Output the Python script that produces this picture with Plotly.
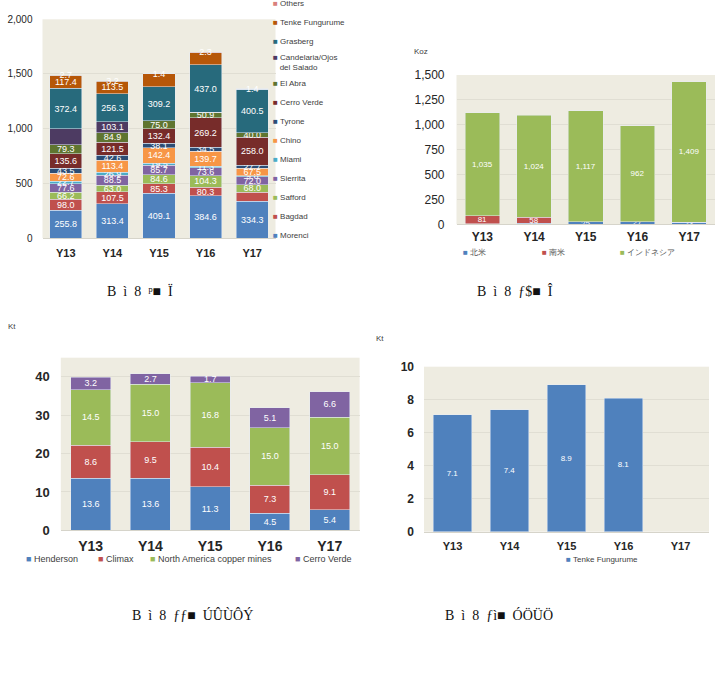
import plotly.graph_objects as go

W, H = 726, 690

years = ["Y13", "Y14", "Y15", "Y16", "Y17"]

# ---- Chart 1: copper by mine (stack order bottom -> top) ----
mine_names = ["Morenci", "Bagdad", "Safford", "Sierrita", "Miami", "Chino", "Tyrone",
              "Cerro Verde", "El Abra", "Candelaria/Ojos<br>\u00a0\u00a0\u00a0del Salado",
              "Grasberg", "Tenke Fungurume", "Others"]
morenci = [255.8, 313.4, 409.1, 384.6, 334.3]
bagdad = [98.0, 107.5, 85.3, 80.3, 85.0]
safford = [66.2, 63.0, 84.6, 104.3, 68.0]
sierrita = [77.6, 88.5, 85.7, 73.6, 72.0]
miami = [22.7, 26.9, 19.5, 11.3, 9.6]
chino = [72.6, 113.4, 142.4, 139.7, 67.5]
tyrone = [43.5, 42.6, 38.1, 34.5, 27.7]
cerro_verde = [135.6, 121.5, 132.4, 269.2, 258.0]
el_abra = [79.3, 84.9, 75.0, 50.9, 40.0]
candelaria = [146.0, 103.1, 0, 0, 0]
grasberg = [372.4, 256.3, 309.2, 437.0, 400.5]
tenke = [117.4, 113.5, 119.6, 111.0, 0]
others = [2.7, 3.2, 1.4, 2.3, 1.4]
mine_values = [morenci, bagdad, safford, sierrita, miami, chino, tyrone,
               cerro_verde, el_abra, candelaria, grasberg, tenke, others]
mine_colors = ["#4F81BD", "#C0504D", "#9BBB59", "#8064A2", "#4BACC6", "#F79646", "#2C4D75",
               "#772C2A", "#5F7530", "#4D3B62", "#276A7C", "#B65708", "#D9807C"]
# labels not shown in the reference (series index, year index)
hidden_labels = {(9, 0), (11, 2), (11, 3), (1, 4)}

# ---- Chart 2: gold (Koz) ----
gold_names = ["北米", "南米", "インドネシア"]
gold_na = [7, 12, 25, 27, 23]
gold_sa = [81, 58, 0, 0, 0]
gold_id = [1035, 1024, 1117, 962, 1409]
gold_colors = ["#4F81BD", "#C0504D", "#9BBB59"]

# ---- Chart 3: molybdenum (Kt) ----
moly_names = ["Henderson", "Climax", "North America copper mines", "Cerro Verde"]
henderson = [13.6, 13.6, 11.3, 4.5, 5.4]
climax = [8.6, 9.5, 10.4, 7.3, 9.1]
na_copper = [14.5, 15.0, 16.8, 15.0, 15.0]
moly_cv = [3.2, 2.7, 1.7, 5.1, 6.6]
moly_colors = ["#4F81BD", "#C0504D", "#9BBB59", "#8064A2"]

# ---- Chart 4: cobalt (Kt) ----
cobalt_names = ["Tenke Fungurume"]
tenke_cobalt = [7.1, 7.4, 8.9, 8.1, None]

captions = ["B\u00a0\u00a0ì\u00a0\u00a08\u00a0\u00a0ᵖ■\u00a0\u00a0Ï",
            "B\u00a0\u00a0ì\u00a0\u00a08\u00a0\u00a0ƒ$■\u00a0\u00a0Î",
            "B\u00a0\u00a0ì\u00a0\u00a08\u00a0\u00a0ƒƒ■\u00a0\u00a0ÚÛÙÔÝ",
            "B\u00a0\u00a0ì\u00a0\u00a08\u00a0\u00a0ƒì■\u00a0\u00a0ÓÖÜÖ"]

FONT = "Liberation Sans, Arial, sans-serif"
BG = "#EEECE1"
GRID = "#E0DED3"

fig = go.Figure()


def px_x(x):
    return x / W


def px_y(y):
    return 1 - y / H


def legend_label(name, color):
    return "<span style='color:%s'>■</span>\u00a0%s" % (color, name)


def add_stack(names, values, colors, xa, ya, legends, fmt, tsize, width,
              hidden=frozenset()):
    for i, (n, v, c) in enumerate(zip(names, values, colors)):
        txt = []
        for j, val in enumerate(v):
            if val is None or val == 0 or (i, j) in hidden:
                txt.append("")
            else:
                txt.append(fmt.format(val))
        fig.add_trace(go.Bar(
            x=years, y=v, name=n.replace("<br>", " "), marker_color=c, width=width,
            text=txt, textposition="inside", insidetextanchor="middle",
            constraintext="none", textangle=0,
            textfont=dict(color="white", size=tsize, family=FONT),
            xaxis=xa, yaxis=ya, showlegend=False, hoverinfo="x+y+name"))
    for k, (n, c) in enumerate(zip(names, colors)):
        lg = legends if isinstance(legends, str) else legends[k]
        fig.add_trace(go.Scatter(
            x=[None], y=[None], mode="markers", name=legend_label(n, c),
            marker=dict(symbol="square", size=1, color="rgba(0,0,0,0)"),
            xaxis=xa, yaxis=ya, legend=lg, showlegend=True, hoverinfo="skip"))


add_stack(mine_names, mine_values, mine_colors, "x", "y", "legend", "{:.1f}", 9, 0.69,
          hidden_labels)
add_stack(gold_names, [gold_na, gold_sa, gold_id], gold_colors, "x2", "y2",
          ["legend2", "legend3", "legend4"], "{:,.0f}", 8, 0.67)
add_stack(moly_names, [henderson, climax, na_copper, moly_cv], moly_colors, "x3", "y3",
          ["legend5", "legend6", "legend7", "legend8"], "{:.1f}", 9, 0.67)
add_stack(cobalt_names, [tenke_cobalt], ["#4F81BD"], "x4", "y4", ["legend9"], "{:.1f}", 8,
          0.67)


def xaxis(dom, anchor, size, standoff):
    return dict(domain=dom, anchor=anchor, type="category", showgrid=False,
                showline=True, linecolor="#D6D4CA", ticks="", zeroline=False,
                ticklabelstandoff=standoff,
                tickfont=dict(family=FONT, size=size, color="#262626", weight="bold"),
                fixedrange=True)


def yaxis(dom, anchor, rng, dtick, size, fmt="", bold=False, standoff=8):
    return dict(domain=dom, anchor=anchor, range=rng, dtick=dtick, tickformat=fmt,
                showgrid=True, gridcolor=GRID, zeroline=False, ticks="",
                showline=False, ticklabelstandoff=standoff,
                tickfont=dict(family=FONT, size=size, color="#262626",
                              weight="bold" if bold else "normal"),
                fixedrange=True)


def hleg(text_x, cy, size, color="#404040"):
    return dict(orientation="h", x=px_x(text_x - 40), xanchor="left", y=px_y(cy),
                yanchor="middle", font=dict(size=size, family=FONT, color=color),
                bgcolor="rgba(0,0,0,0)", itemwidth=30)


layout = dict(
    width=W, height=H, margin=dict(l=0, r=0, t=0, b=0, autoexpand=False),
    paper_bgcolor="white", plot_bgcolor=BG, barmode="stack",
    font=dict(family=FONT, color="#404040"),
    xaxis=xaxis([px_x(42.5), px_x(275.5)], "y", 11, 5),
    yaxis=yaxis([px_y(238), px_y(19.3)], "x", [0, 2000], 500, 10, ",", False, 9),
    xaxis2=xaxis([px_x(456.5), px_x(715)], "y2", 12, 1),
    yaxis2=yaxis([px_y(224.3), px_y(75)], "x2", [0, 1500], 250, 12, ",", False, 11),
    xaxis3=xaxis([px_x(60.8), px_x(359.6)], "y3", 14, 3),
    yaxis3=yaxis([px_y(530.3), px_y(357.7)], "x3", [0, 45], 10, 13, "", True, 10),
    xaxis4=xaxis([px_x(424), px_x(709)], "y4", 11, 4),
    yaxis4=yaxis([px_y(531.7), px_y(366.7)], "x4", [0, 10], 2, 12, "", True, 9),
    legend=dict(orientation="v", x=px_x(233), xanchor="left", y=px_y(-12), yanchor="top",
                traceorder="reversed", font=dict(size=8, family=FONT, color="#404040"),
                bgcolor="rgba(0,0,0,0)", itemwidth=30, tracegroupgap=0),
    legend2=hleg(463, 252, 8, "#595959"),
    legend3=hleg(542, 252, 8, "#595959"),
    legend4=hleg(620, 252, 8, "#595959"),
    legend5=hleg(26, 558, 9),
    legend6=hleg(98, 558, 9),
    legend7=hleg(150, 558, 9),
    legend8=hleg(295, 558, 9),
    legend9=hleg(566, 559, 8),
    showlegend=True,
)

ann = []
ann.append(dict(text="Koz", x=px_x(412), y=px_y(51), xref="paper", yref="paper",
                xanchor="left", yanchor="middle", showarrow=False,
                font=dict(size=8, family=FONT, color="#404040")))
ann.append(dict(text="Kt", x=px_x(6), y=px_y(327), xref="paper", yref="paper",
                xanchor="left", yanchor="middle", showarrow=False,
                font=dict(size=8, family=FONT, color="#404040")))
ann.append(dict(text="Kt", x=px_x(374), y=px_y(338), xref="paper", yref="paper",
                xanchor="left", yanchor="middle", showarrow=False,
                font=dict(size=8, family=FONT, color="#404040")))
cap_pos = [(105, 291), (475, 291), (130, 615), (443, 615)]
for txt, (cx, cy) in zip(captions, cap_pos):
    ann.append(dict(text=txt, x=px_x(cx), y=px_y(cy), xref="paper", yref="paper",
                    xanchor="left", yanchor="middle", showarrow=False,
                    font=dict(size=14, family="Liberation Serif, serif", color="#111111")))
layout["annotations"] = ann

fig.update_layout(**layout)
fig.write_html("out.html")
